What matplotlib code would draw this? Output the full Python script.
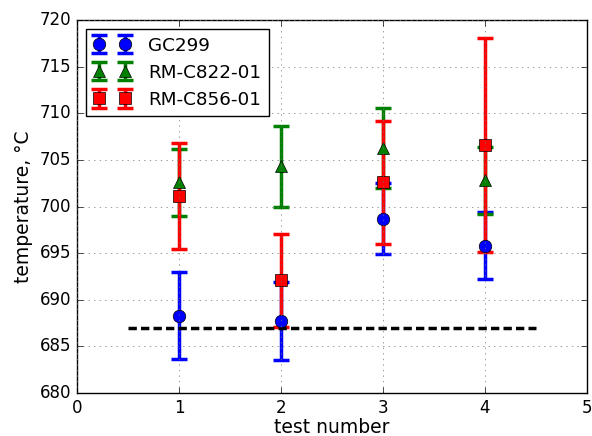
import matplotlib
matplotlib.use('Agg')
import matplotlib.pyplot as plt

plt.style.use('classic')

tests = [1, 2, 3, 4]

# GC299
gc_t = [688.3, 687.7, 698.7, 695.8]
gc_err = [4.7, 4.2, 3.8, 3.6]

# RM-C822-01
rm822_t = [702.6, 704.3, 706.3, 702.8]
rm822_err = [3.6, 4.3, 4.3, 3.6]

# RM-C856-01
rm856_t = [701.1, 692.1, 702.6, 706.6]
rm856_err = [5.7, 5.0, 6.6, 11.5]

ref_x = [0.5, 4.5]
ref_t = [687, 687]

fig = plt.figure(figsize=(5.92, 4.36), dpi=100, facecolor='white')
ax = fig.add_axes([0.130, 0.0986, 0.8615, 0.8555])

kw = dict(linestyle='none', elinewidth=2.5, capsize=5.5, capthick=2.5, markersize=9)
ax.errorbar(tests, gc_t, yerr=gc_err, fmt='o', color='b', label='GC299', **kw)
ax.errorbar(tests, rm822_t, yerr=rm822_err, fmt='^', color='g', label='RM-C822-01', **kw)
ax.errorbar(tests, rm856_t, yerr=rm856_err, fmt='s', color='r', label='RM-C856-01', **kw)
ax.plot(ref_x, ref_t, color='k', linestyle='--', dashes=(6, 3), linewidth=2.5)

ax.set_xlim(0, 5)
ax.set_ylim(680, 720)
ax.set_xlabel('test number', fontsize=13.5, labelpad=1)
ax.set_ylabel('temperature, °C', fontsize=13.5)
ax.grid(True, color='0.45')
ax.legend(loc='upper left', numpoints=2, fontsize=13.2, handletextpad=1.0)

fig.savefig('out.png', dpi=100, facecolor='white')
